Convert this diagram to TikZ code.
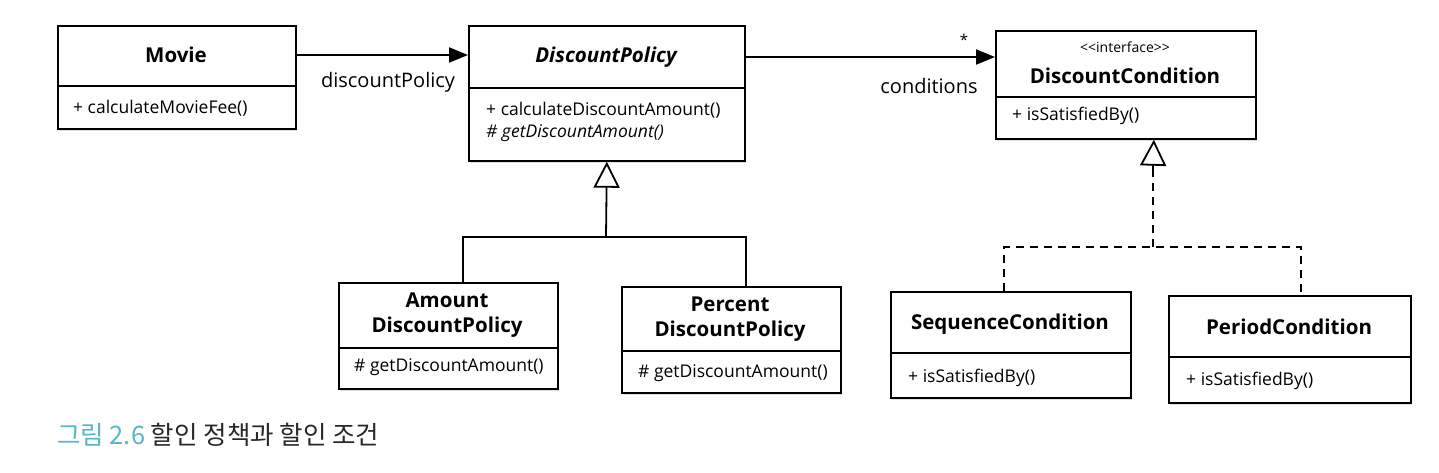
\documentclass[tikz,border=0pt]{standalone}
\usepackage{fontspec}
\setmainfont{Open Sans}
\newfontfamily\cjk{Noto Sans CJK KR}
\usetikzlibrary{arrows.meta,shadows}
\definecolor{capteal}{RGB}{90,182,200}
\definecolor{capgray}{RGB}{40,40,40}
\begin{document}
\begin{tikzpicture}[x=1pt,y=-1pt,
  classbox/.style={draw, line width=1.7pt, fill=white, anchor=north west, inner sep=0pt,
    drop shadow={shadow xshift=1.5pt, shadow yshift=-2.5pt, opacity=0.25}},
  title/.style={font=\fontsize{20.5}{25}\selectfont\bfseries, align=center, inner sep=0pt},
  meth/.style={font=\fontsize{17.5}{21}\selectfont, anchor=west, inner sep=0pt},
  stereo/.style={font=\fontsize{14}{16}\selectfont, inner sep=0pt},
  lbl/.style={font=\fontsize{20}{24}\selectfont, inner sep=0pt},
  divider/.style={line width=1.5pt},
  assoc/.style={line width=2pt, -{Triangle[width=15pt,length=19pt]}},
  gen/.style={line width=1.8pt, -{Triangle[open,width=26pt,length=26pt,line width=1.8pt]}},
  real/.style={line width=1.8pt, dash pattern=on 8pt off 6pt},
  realhead/.style={line width=1.8pt, -{Triangle[open,width=26pt,length=26pt,line width=1.8pt]}},
]
\useasboundingbox (0,0) rectangle (1439,473);
\fill[white] (0,0) rectangle (1439,473);

% Movie
\node[classbox, minimum width=238pt, minimum height=103pt] (movie) at (57,25) {};
\draw[divider] (57,86) -- (295,86);
\node[title] (movieT) at (176,55) {Movie};
\node[meth] (movieM) at (73,108) {+ calculateMovieFee()};

% DiscountPolicy
\node[classbox, minimum width=276pt, minimum height=135pt] (dp) at (468,25) {};
\draw[divider] (468,88) -- (744,88);
\node[title, font=\fontsize{20.5}{25}\selectfont\bfseries\itshape] (dpT) at (606,57) {DiscountPolicy};
\node[meth] (dpM1) at (486,110) {+ calculateDiscountAmount()};
\node[meth] (dpM2) at (486,133) {\textit{\# getDiscountAmount()}};

% DiscountCondition
\node[classbox, minimum width=260pt, minimum height=108pt] (dc) at (995,30) {};
\draw[divider] (995,97) -- (1255,97);
\node[stereo] (dcS) at (1125,47) {{<}{<}interface{>}{>}};
\node[title] (dcT) at (1125,76) {DiscountCondition};
\node[meth] (dcM) at (1012,116) {+ isSatisfiedBy()};

% AmountDiscountPolicy
\node[classbox, minimum width=219pt, minimum height=106pt] (amount) at (338,282) {};
\draw[divider] (338,348) -- (557,348);
\node[title] (amountT) at (447,315) {Amount\\DiscountPolicy};
\node[meth] (amountM) at (354,367) {\# getDiscountAmount()};

% PercentDiscountPolicy
\node[classbox, minimum width=219pt, minimum height=106pt] (percent) at (621,286) {};
\draw[divider] (621,351) -- (840,351);
\node[title] (percentT) at (730,319) {Percent\\DiscountPolicy};
\node[meth] (percentM) at (638,373) {\# getDiscountAmount()};

% SequenceCondition
\node[classbox, minimum width=240pt, minimum height=106pt] (seq) at (890,291) {};
\draw[divider] (890,353) -- (1130,353);
\node[title] (seqT) at (1010,324) {SequenceCondition};
\node[meth] (seqM) at (908,378) {+ isSatisfiedBy()};

% PeriodCondition
\node[classbox, minimum width=242pt, minimum height=107pt] (period) at (1168,295) {};
\draw[divider] (1168,357) -- (1410,357);
\node[title] (periodT) at (1289,327) {PeriodCondition};
\node[meth] (periodM) at (1186,381) {+ isSatisfiedBy()};

% associations
\draw[assoc] (movie.east |- movieT) -- (dp.west |- movieT);
\node[lbl] (lblDP) at (388,82) {discountPolicy};
\draw[assoc] (dp.east |- dpT) -- (dc.west |- dpT);
\node[lbl, font=\fontsize{15}{18}\selectfont] (lblStar) at (964,40) {*};
\node[lbl] (lblCond) at (929,86) {conditions};

% generalization
\coordinate (gj) at (606,237);
\draw[line width=1.8pt] ([xshift=15pt]amount.north) |- (gj) -| ([xshift=15pt]percent.north);
\draw[gen] (gj) -- (dp.south);

% realization
\coordinate (rj) at (1153,247);
\draw[real] ([xshift=-7pt]seq.north) |- (rj) -| ([xshift=11pt]period.north);
\draw[real] (rj) -- (1153,168);
\draw[realhead] (1153,169) -- ([xshift=28pt]dc.south);

% caption
\node[anchor=west, inner sep=0pt, font=\cjk\fontsize{25.5}{28}\selectfont] (cap) at (57,435)
  {\textcolor{capteal}{그림 2.6} \textcolor{capgray}{할인 정책과 할인 조건}};
\end{tikzpicture}
\end{document}
